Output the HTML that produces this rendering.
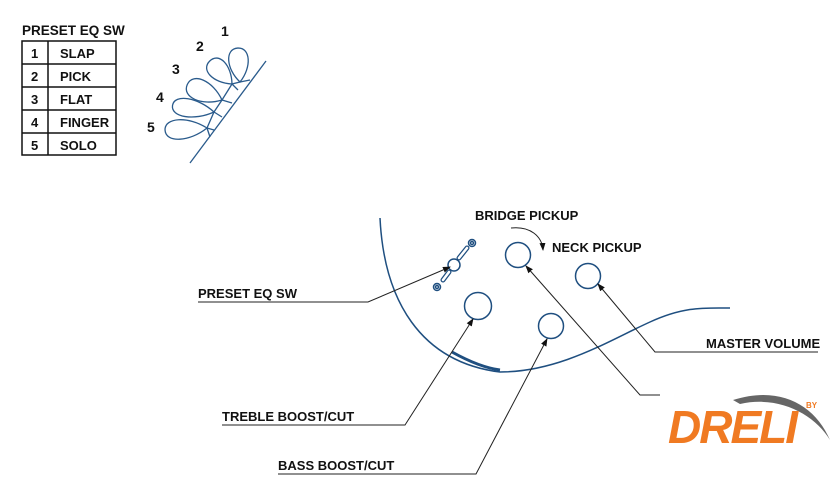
<!DOCTYPE html>
<html><head><style>
html,body{margin:0;padding:0;background:#fff;}
svg{display:block;font-family:"Liberation Sans",sans-serif;}
.t{font-weight:bold;font-size:13px;fill:#111;}
</style></head><body>
<svg width="840" height="495" viewBox="0 0 840 495">
<defs><marker id="a" markerWidth="8" markerHeight="8" refX="7" refY="4" orient="auto"><path d="M0,1 L8,4 L0,7 z" fill="#111"/></marker></defs>
<text x="22" y="35" class="t" style="font-size:13.5px">PRESET EQ SW</text>
<g stroke="#111" stroke-width="1.5" fill="none">
<rect x="22" y="41" width="94" height="114"/>
<line x1="48" y1="41" x2="48" y2="155"/>
<line x1="22" y1="64" x2="116" y2="64"/><line x1="22" y1="87" x2="116" y2="87"/>
<line x1="22" y1="110" x2="116" y2="110"/><line x1="22" y1="133" x2="116" y2="133"/>
</g>
<g class="t"><text x="31" y="58">1</text><text x="60" y="58">SLAP</text>
<text x="31" y="81">2</text><text x="60" y="81">PICK</text>
<text x="31" y="104">3</text><text x="60" y="104">FLAT</text>
<text x="31" y="127">4</text><text x="60" y="127">FINGER</text>
<text x="31" y="150">5</text><text x="60" y="150">SOLO</text></g>
<g class="t" style="font-size:14px"><text x="221" y="36">1</text><text x="196" y="51">2</text><text x="172" y="74">3</text><text x="156" y="102">4</text><text x="147" y="132">5</text></g>
<g stroke="#2a5b8c" stroke-width="1.3" fill="none">
<line x1="190" y1="163" x2="266" y2="61"/>
<path transform="translate(240,82) rotate(86)" d="M0,0 C-14,-13 -34,-13 -34,0 C-34,13 -14,13 0,0 Z"/>
<path transform="translate(232,84) rotate(46)" d="M0,0 C-14,-13 -32,-13 -32,0 C-32,13 -14,13 0,0 Z"/>
<path transform="translate(222,100) rotate(24)" d="M0,0 C-16,-14 -38,-14 -38,0 C-38,14 -16,14 0,0 Z"/>
<path transform="translate(214,112) rotate(9)" d="M0,0 C-18,-12 -42,-12 -42,0 C-42,12 -18,12 0,0 Z"/>
<path transform="translate(207,128) rotate(-3)" d="M0,0 C-18,-13 -42,-13 -42,0 C-42,13 -18,13 0,0 Z"/>
<path d="M240,82 L232,84 L222,100 L214,112 L207,128 L210,137"/>
<path d="M240,82 L250,80 M232,84 L238,90 M222,100 L232,103 M214,112 L222,117 M207,128 L214,130"/>
</g>
<g stroke="#1f4f80" stroke-width="1.5" fill="none">
<path d="M380,218 C384,300 420,362 500,372 C560,372 610,340 650,322 C685,306 705,308 730,308"/>
<circle cx="518" cy="255" r="12.5"/><circle cx="588" cy="276" r="12.5"/>
<circle cx="478" cy="306" r="13.5"/><circle cx="551" cy="326" r="12.5"/>
<circle cx="454" cy="265" r="6"/>
<path d="M443,280 L449,272 M459,258 L467,248" stroke-width="5" stroke-linecap="round"/>
<path d="M443,280 L449,272 M459,258 L467,248" stroke-width="2.5" stroke="#fff" stroke-linecap="round"/>
<circle cx="472" cy="243" r="3.5"/><circle cx="472" cy="243" r="1.5"/>
<circle cx="437" cy="287" r="3.5"/><circle cx="437" cy="287" r="1.5"/>
<path d="M452,352 C470,362 485,368 500,370" stroke-width="3"/>
</g>
<g stroke="#222" stroke-width="1" fill="none">
<path d="M198,302 L368,302 L450,267" marker-end="url(#a)"/>
<path d="M222,425 L405,425 L473,319" marker-end="url(#a)"/>
<path d="M278,474 L476,474 L547,339" marker-end="url(#a)"/>
<path d="M818,352 L655,352 L598,284" marker-end="url(#a)"/>
<path d="M660,395 L640,395 L526,266" marker-end="url(#a)"/>
<path d="M511,228 C530,226 542,236 543,250" marker-end="url(#a)"/>
</g>
<g class="t"><text x="475" y="220">BRIDGE PICKUP</text><text x="552" y="252">NECK PICKUP</text>
<text x="198" y="298">PRESET EQ SW</text><text x="706" y="348">MASTER VOLUME</text>
<text x="222" y="421">TREBLE BOOST/CUT</text><text x="278" y="470">BASS BOOST/CUT</text></g>
<path d="M733,400 C780,385 815,405 830,440 C815,415 780,395 740,404 Z" fill="#666"/>
<text x="668" y="443" style="font-weight:bold;font-style:italic;font-size:46px;fill:#f07a22;letter-spacing:-2px">DRELI</text>
<text x="806" y="408" style="font-weight:bold;font-size:8px;fill:#f07a22">BY</text>
</svg>
</body></html>
